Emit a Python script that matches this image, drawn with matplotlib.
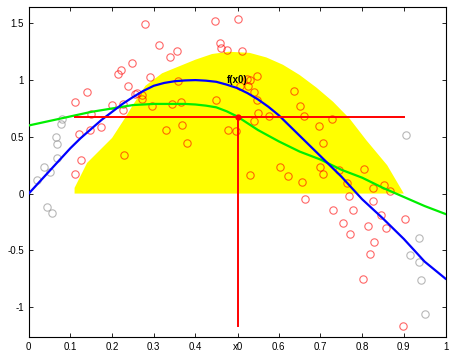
import numpy as np
import matplotlib
matplotlib.use("Agg")
import matplotlib.pyplot as plt

plt.rcParams['font.family'] = ['Liberation Sans', 'DejaVu Sans']
plt.rcParams['axes.unicode_minus'] = False

# scatter samples inside the window (red) and outside (gray)
red_x = [0.111, 0.139, 0.120, 0.125, 0.112, 0.147, 0.150, 0.173, 0.199, 0.213,
         0.221, 0.239, 0.248, 0.227, 0.225, 0.229, 0.256, 0.260, 0.271, 0.271,
         0.280, 0.290, 0.296, 0.312, 0.330, 0.339, 0.344, 0.356, 0.357, 0.366,
         0.367, 0.379, 0.447, 0.449, 0.459, 0.461, 0.476, 0.477, 0.497, 0.503,
         0.512, 0.547, 0.523, 0.531, 0.508, 0.527, 0.541, 0.547, 0.549, 0.576,
         0.540, 0.637, 0.651, 0.660, 0.697, 0.728, 0.707, 0.603, 0.531, 0.623,
         0.700, 0.705, 0.805, 0.655, 0.663, 0.729, 0.744, 0.764, 0.826, 0.852,
         0.866, 0.768, 0.826, 0.779, 0.846, 0.902, 0.754, 0.815, 0.770, 0.858,
         0.828, 0.819, 0.802, 0.897]
red_y = [0.807, 0.898, 0.521, 0.300, 0.174, 0.562, 0.700, 0.591, 0.780, 1.057,
         1.086, 0.948, 1.151, 0.792, 0.739, 0.339, 0.880, 0.883, 0.871, 0.836,
         1.498, 1.027, 0.768, 1.306, 0.560, 1.207, 0.792, 1.259, 0.992, 0.803,
         0.606, 0.450, 1.518, 0.827, 1.327, 1.280, 1.268, 0.556, 0.553, 1.539,
         1.259, 1.039, 1.012, 1.003, 0.948, 0.951, 0.895, 0.824, 0.706, 0.683,
         0.639, 0.906, 0.768, 0.680, 0.598, 0.657, 0.450, 0.236, 0.168, 0.152,
         0.236, 0.172, 0.218, 0.106, -0.049, -0.147, 0.205, 0.094, 0.050, 0.079,
         0.026, -0.023, -0.062, -0.141, -0.188, -0.221, -0.261, -0.282, -0.353, -0.303,
         -0.426, -0.532, -0.753, -1.165]

gray_x = [0.081, 0.078, 0.065, 0.067, 0.069, 0.037, 0.051, 0.019, 0.045, 0.057,
          0.904, 0.936, 0.914, 0.937, 0.942, 0.951]
gray_y = [0.659, 0.615, 0.500, 0.439, 0.312, 0.231, 0.187, 0.118, -0.120, -0.170,
          0.518, -0.391, -0.538, -0.605, -0.759, -1.059]

# fitted curves, read every 0.025
curve_x = [0.0, 0.025, 0.05, 0.075, 0.1, 0.125, 0.15, 0.175, 0.2, 0.225,
           0.25, 0.275, 0.3, 0.325, 0.35, 0.375, 0.4, 0.425, 0.45, 0.475,
           0.5, 0.525, 0.55, 0.575, 0.6, 0.625, 0.65, 0.675, 0.7, 0.725,
           0.75, 0.775, 0.8, 0.825, 0.85, 0.875, 0.9, 0.925, 0.95, 0.975, 1.0]
blue_y = [0.0, 0.10, 0.20, 0.30, 0.40, 0.49, 0.57, 0.65, 0.72, 0.79,
          0.85, 0.905, 0.95, 0.975, 0.99, 0.997, 1.0, 0.995, 0.985, 0.96,
          0.93, 0.885, 0.83, 0.765, 0.69, 0.60, 0.51, 0.42, 0.33, 0.24,
          0.15, 0.05, -0.05, -0.135, -0.22, -0.31, -0.40, -0.50, -0.60, -0.675, -0.75]
green_y = [0.60, 0.62, 0.64, 0.66, 0.68, 0.70, 0.72, 0.735, 0.75, 0.765,
           0.78, 0.785, 0.79, 0.79, 0.79, 0.79, 0.785, 0.775, 0.76, 0.725,
           0.68, 0.62, 0.56, 0.51, 0.46, 0.415, 0.37, 0.335, 0.30, 0.255,
           0.21, 0.175, 0.14, 0.095, 0.05, 0.01, -0.03, -0.07, -0.11, -0.145, -0.18]

# kernel window outline
win_x = [0.11, 0.11, 0.14, 0.20, 0.23, 0.25, 0.28, 0.32, 0.36, 0.40, 0.44,
         0.48, 0.53, 0.57, 0.61, 0.65, 0.69, 0.73, 0.77, 0.81, 0.86, 0.90]
win_y = [0.0, 0.05, 0.27, 0.49, 0.66, 0.78, 0.95, 1.06, 1.12, 1.18, 1.23,
         1.25, 1.24, 1.20, 1.135, 1.045, 0.935, 0.81, 0.66, 0.47, 0.25, 0.0]

x0 = 0.503
fx0 = 0.674
x_left, x_right = 0.11, 0.90
y_bottom = -1.165

xticks = [0, 0.1, 0.2, 0.3, 0.4, x0, 0.6, 0.7, 0.8, 0.9, 1]
xticklabels = ['0', '0.1', '0.2', '0.3', '0.4', 'x0', '0.6', '0.7', '0.8', '0.9', '1']
yticks = [-1, -0.5, 0, 0.5, 1, 1.5]
yticklabels = ['-1', '-0.5', '0', '0.5', '1', '1.5']


def main():
    fig = plt.figure(figsize=(4.56, 3.56), dpi=100)
    ax = fig.add_axes([0.063, 0.054, 0.914, 0.925])

    ax.fill(win_x, win_y, color='#ffff00', lw=0, zorder=1)

    ax.plot(red_x, red_y, 'o', mfc='none', mec='red', mew=0.8, ms=5.3,
            alpha=0.6, zorder=2)
    ax.plot(gray_x, gray_y, 'o', mfc='none', mec='#999999', mew=0.8, ms=5.3,
            alpha=0.7, zorder=2)

    ax.plot(curve_x, green_y, color='#00ee00', lw=1.6, zorder=3)
    ax.plot(curve_x, blue_y, color='#0000ff', lw=1.6, zorder=4)

    ax.plot([x_left, x_right], [fx0, fx0], color='red', lw=1.4, zorder=5)
    ax.plot([x0, x0], [y_bottom, fx0], color='red', lw=1.4, zorder=5)
    ax.plot([x0], [fx0], 'o', color='red', ms=3.5, zorder=6)

    ax.text(0.476, 0.997, 'f(x0)', fontsize=7, fontweight='bold',
            va='center', ha='left', zorder=7)

    ax.set_xlim(0, 1)
    ax.set_ylim(-1.262, 1.64)
    ax.set_xticks(xticks)
    ax.set_xticklabels(xticklabels)
    ax.set_yticks(yticks)
    ax.set_yticklabels(yticklabels)
    ax.tick_params(direction='in', top=True, right=True, labelsize=7,
                   length=3, width=0.6, colors='black')
    for s in ax.spines.values():
        s.set_linewidth(0.8)

    fig.savefig("out.png", dpi=100)


if __name__ == "__main__":
    main()
